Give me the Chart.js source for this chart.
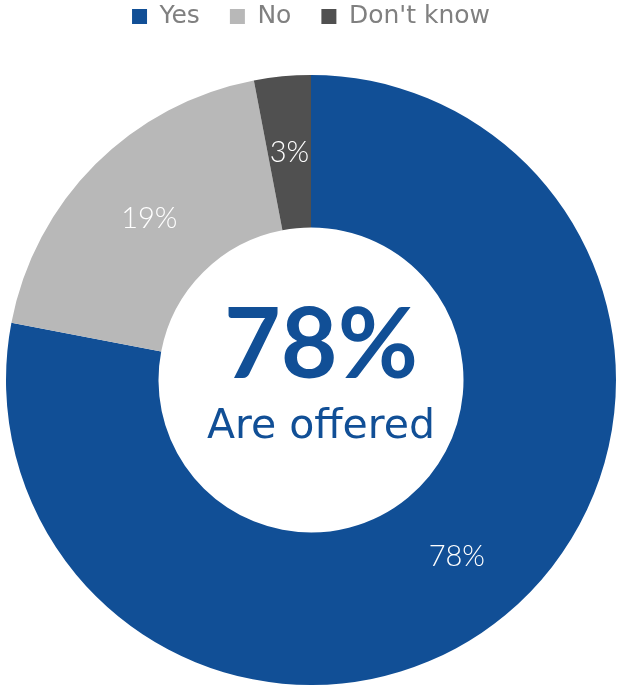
<!DOCTYPE html>
<html>
<head>
<meta charset="utf-8">
<script src="https://cdn.jsdelivr.net/npm/chart.js@4.4.1/dist/chart.umd.min.js"></script>
<style>
    html, body { margin: 0; padding: 0; background: #ffffff; }
    #wrap { width: 618px; height: 685px; }
</style>
</head>
<body>
<div id="wrap"><canvas id="donut"></canvas></div>
<script>
const categories = ['Yes', 'No', "Don't know"];
const shares = [78, 19, 3];
const colors = ['#114f96', '#b8b8b8', '#505050'];
const headline = '78%';
const subline = 'Are offered';

// stretch the legend box so the ring starts lower down
const legendHeight = {
    id: 'legendHeight',
    beforeInit(chart) {
        const originalFit = chart.legend.fit;
        chart.legend.fit = function fit() {
            originalFit.bind(chart.legend)();
            this.height = 101;
        };
    }
};

const sliceLabels = {
    id: 'sliceLabels',
    afterDatasetsDraw(chart) {
        const { ctx } = chart;
        const meta = chart.getDatasetMeta(0);
        ctx.save();
        ctx.fillStyle = '#ffffff';
        ctx.font = '300 29px Lato, "DejaVu Sans", sans-serif';
        ctx.textAlign = 'center';
        ctx.textBaseline = 'middle';
        meta.data.forEach((arc, i) => {
            const pos = arc.tooltipPosition();
            ctx.fillText(shares[i] + '%', pos.x, pos.y);
        });
        ctx.restore();
    }
};

const centerText = {
    id: 'centerText',
    afterDraw(chart) {
        const { ctx, chartArea } = chart;
        const cx = (chartArea.left + chartArea.right) / 2 + 10;
        const cy = (chartArea.top + chartArea.bottom) / 2;
        ctx.save();
        ctx.fillStyle = '#114f96';
        ctx.textAlign = 'center';
        ctx.textBaseline = 'alphabetic';
        ctx.font = 'bold 98px Lato, "DejaVu Sans", sans-serif';
        ctx.fillText(headline, cx, cy - 2);
        ctx.font = '41px "DejaVu Sans", sans-serif';
        ctx.fillText(subline, cx, cy + 58);
        ctx.restore();
    }
};

new Chart(document.getElementById('donut'), {
    type: 'doughnut',
    data: {
        labels: categories,
        datasets: [{
            data: shares,
            backgroundColor: colors,
            borderWidth: 0
        }]
    },
    options: {
        responsive: true,
        maintainAspectRatio: false,
        animation: false,
        cutout: '50%',
        layout: { padding: { left: 6, right: 2, top: -26, bottom: 0 } },
        plugins: {
            tooltip: { enabled: false },
            legend: {
                position: 'top',
                labels: {
                    color: '#808080',
                    boxWidth: 15,
                    boxHeight: 15,
                    padding: 30,
                    font: { family: '"DejaVu Sans", sans-serif', size: 25 }
                }
            }
        }
    },
    plugins: [legendHeight, sliceLabels, centerText]
});
</script>
</body>
</html>
